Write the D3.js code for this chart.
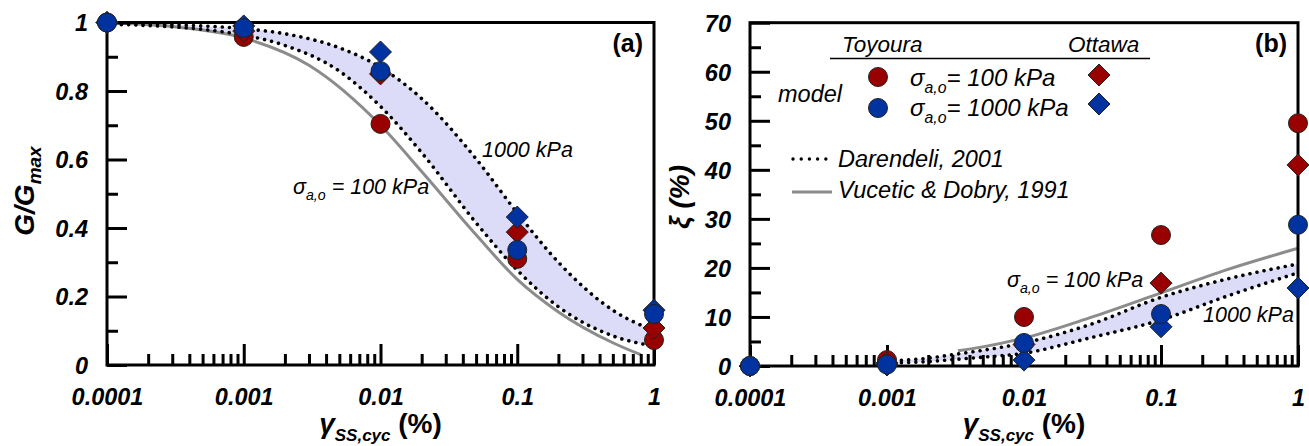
<!DOCTYPE html>
<html><head><meta charset="utf-8">
<script src="https://cdn.jsdelivr.net/npm/d3@7"></script>
<style>
body{margin:0;background:#fff}
svg{display:block}
text{font-family:"Liberation Sans",Arial,sans-serif}
</style>
</head><body>
<svg id="c" width="1309" height="446"></svg>
<script>
// ---------- data ----------
const strainMajor = [0.0001, 0.001, 0.01, 0.1, 1];
const strainLabels = ["0.0001", "0.001", "0.01", "0.1", "1"];
const testStrain = [0.0001, 0.001, 0.01, 0.1, 1];

// panel (a) G/Gmax
const gTicks = [0, 0.2, 0.4, 0.6, 0.8, 1];
const gLabels = ["0", "0.2", "0.4", "0.6", "0.8", "1"];
const gToy100 = [1.0, 0.958, 0.704, 0.31, 0.073];
const gToy1000 = [1.0, 0.984, 0.858, 0.336, 0.149];
const gOtt100 = [1.0, 0.975, 0.85, 0.388, 0.108];
const gOtt1000 = [1.0, 0.99, 0.914, 0.432, 0.16];
const darStrainA = [0.0001, 0.0002, 0.0005, 0.001, 0.002, 0.005, 0.01, 0.02, 0.05, 0.1, 0.2, 0.5, 1];
const darG100 = [0.995, 0.991, 0.980, 0.963, 0.933, 0.858, 0.755, 0.62, 0.415, 0.277, 0.17, 0.085, 0.055];
const darG1000 = [0.998, 0.996, 0.990, 0.982, 0.967, 0.926, 0.869, 0.778, 0.602, 0.444, 0.30, 0.16, 0.10];
const vdStrainA = [0.0001, 0.0003, 0.001, 0.003, 0.01, 0.02, 0.05, 0.1, 0.2, 0.5, 0.8];
const vdG = [1.0, 0.988, 0.955, 0.875, 0.70, 0.565, 0.38, 0.25, 0.155, 0.065, 0.03];

// panel (b) damping
const xiTicks = [0, 10, 20, 30, 40, 50, 60, 70];
const xiLabels = ["0", "10", "20", "30", "40", "50", "60", "70"];
const xiToy100 = [0, 1.2, 10.0, 26.7, 49.5];
const xiToy1000 = [0, 0.3, 4.7, 10.6, 28.8];
const xiOtt100 = [0, 0.6, 4.4, 16.9, 41.0];
const xiOtt1000 = [0, 0.2, 1.2, 8.0, 15.9];
const darStrainB = [0.001, 0.002, 0.003, 0.005, 0.01, 0.03, 0.1, 0.3, 1];
const darXi100 = [1.0, 1.6, 2.3, 3.2, 4.7, 8.4, 14.0, 17.7, 20.8];
const darXi1000 = [0.6, 0.9, 1.3, 1.8, 2.6, 5.7, 9.4, 14.2, 19.0];
const vdStrainB = [0.0033, 0.005, 0.01, 0.03, 0.1, 0.3, 1];
const vdXi = [3.1, 3.9, 5.7, 9.8, 14.9, 19.6, 24.0];

// ---------- style ----------
const RED = "#990000", BLUE = "#0033a0", BAND = "#dcdcf8", GRAY = "#8c8c8c";
const svg = d3.select("#c");

function diamondPath(r) { return `M0,${-r}L${r},0L0,${r}L${-r},0Z`; }

function sigmaText(g, x, y, size, rest) {
  const t = g.append("text").attr("x", x).attr("y", y)
    .attr("font-size", size).attr("font-style", "italic");
  t.append("tspan").text("σ");
  t.append("tspan").attr("font-size", size * 0.66).attr("dy", size * 0.28).text("a,o");
  t.append("tspan").attr("dy", -size * 0.28).text(rest);
  return t;
}

function xTitle(g, cx, y) {
  const t = g.append("text").attr("x", cx).attr("y", y).attr("text-anchor", "middle")
    .attr("font-weight", "bold").attr("font-size", 28);
  t.append("tspan").attr("font-style", "italic").text("γ");
  t.append("tspan").attr("font-style", "italic").attr("font-size", 17).attr("dy", 8).text("SS,cyc");
  t.append("tspan").attr("dy", -8).text(" (%)");
}

function drawPanel(p) {
  const x = d3.scaleLog().domain([1e-4, 1]).range([p.x0, p.x1]);
  const y = d3.scaleLinear().domain(p.yDomain).range([p.yBot, p.yTop]);
  const g = svg.append("g");

  // band between Darendeli curves
  const band = p.darX.map((v, i) => [v, p.darLo[i], p.darHi[i]]);
  g.append("path").datum(band)
    .attr("d", d3.area().x(d => x(d[0])).y0(d => y(d[1])).y1(d => y(d[2])).curve(d3.curveMonotoneX))
    .attr("fill", BAND);

  const line = d3.line().x(d => x(d[0])).y(d => y(d[1])).curve(d3.curveMonotoneX);
  // Vucetic & Dobry
  g.append("path").datum(p.vdX.map((v, i) => [v, p.vdY[i]]))
    .attr("d", line).attr("fill", "none").attr("stroke", GRAY).attr("stroke-width", 3);
  // Darendeli dotted
  [p.darLo, p.darHi].forEach(arr => {
    g.append("path").datum(p.darX.map((v, i) => [v, arr[i]]))
      .attr("d", line).attr("fill", "none").attr("stroke", "#000").attr("stroke-width", 3.6)
      .attr("stroke-linecap", "round").attr("stroke-dasharray", "0.01 7.2");
  });

  // axes ticks
  const isMajor = v => strainMajor.some(m => Math.abs(Math.log10(v / m)) < 1e-6);
  const minorX = x.ticks().filter(v => !isMajor(v));
  const styleAx = sel => { sel.select(".domain").remove(); sel.selectAll("line").attr("stroke-width", 3).attr("stroke", "#000"); };

  g.append("g").attr("transform", `translate(0,${p.yBot})`)
    .call(d3.axisBottom(x).tickValues(minorX).tickSizeInner(-11).tickSizeOuter(0).tickFormat(""))
    .call(styleAx);
  const xa = g.append("g").attr("transform", `translate(0,${p.yBot})`)
    .call(d3.axisBottom(x).tickValues(strainMajor).tickSizeInner(-21).tickSizeOuter(0)
      .tickFormat((d, i) => strainLabels[i]))
    .call(styleAx);
  xa.selectAll("text").attr("y", 40).attr("dy", null).attr("fill", "#000")
    .attr("font-size", 23.5).attr("font-weight", "bold").attr("font-style", "italic")
    .attr("font-family", '"Liberation Sans",Arial,sans-serif');

  const yMajor = p.yTicks;
  const yMinor = y.ticks(p.minorCount).filter(v => !yMajor.some(m => Math.abs(m - v) < 1e-9));
  g.append("g").attr("transform", `translate(${p.x0},0)`)
    .call(d3.axisLeft(y).tickValues(yMinor).tickSizeInner(-11).tickSizeOuter(0).tickFormat(""))
    .call(styleAx);
  const ya = g.append("g").attr("transform", `translate(${p.x0},0)`)
    .call(d3.axisLeft(y).tickValues(yMajor).tickSizeInner(-20).tickSizeOuter(0)
      .tickFormat((d, i) => p.yLabels[i]))
    .call(styleAx);
  ya.selectAll("text").attr("x", -19).attr("dy", "0.36em").attr("fill", "#000")
    .attr("font-size", 23.5).attr("font-weight", "bold").attr("font-style", "italic")
    .attr("font-family", '"Liberation Sans",Arial,sans-serif');

  // frame
  g.append("rect").attr("x", p.x0).attr("y", p.yTop)
    .attr("width", p.x1 - p.x0).attr("height", p.yBot - p.yTop)
    .attr("fill", "none").attr("stroke", "#000").attr("stroke-width", 3);

  // markers
  const series = [
    { v: p.toy100, shape: "c", color: RED },
    { v: p.ott100, shape: "d", color: RED },
    { v: p.ott1000, shape: "d", color: BLUE },
    { v: p.toy1000, shape: "c", color: BLUE }
  ];
  series.forEach(s => {
    const pts = testStrain.map((t, i) => [t, s.v[i]]);
    if (s.shape === "c") {
      g.selectAll(null).data(pts).join("circle")
        .attr("cx", d => x(d[0])).attr("cy", d => y(d[1])).attr("r", 9.5)
        .attr("fill", s.color).attr("stroke", "#222").attr("stroke-width", 1);
    } else {
      g.selectAll(null).data(pts).join("path")
        .attr("transform", d => `translate(${x(d[0])},${y(d[1])})`)
        .attr("d", diamondPath(11)).attr("fill", s.color).attr("stroke", "#222").attr("stroke-width", 1);
    }
  });

  // panel label
  g.append("text").attr("x", p.x1 - 11).attr("y", 52).attr("text-anchor", "end")
    .attr("font-size", 25).attr("font-weight", "bold").text(p.tag);

  xTitle(g, (p.x0 + p.x1) / 2, 433);
  return { g, x, y };
}

// ---------- panel a ----------
const A = drawPanel({
  x0: 107, x1: 654, yTop: 22.5, yBot: 365, yDomain: [0, 1],
  yTicks: gTicks, yLabels: gLabels, minorCount: 10,
  darX: darStrainA, darLo: darG100, darHi: darG1000,
  vdX: vdStrainA, vdY: vdG,
  toy100: gToy100, toy1000: gToy1000, ott100: gOtt100, ott1000: gOtt1000,
  tag: "(a)"
});
{
  const t = A.g.append("text").attr("transform", "translate(34,191) rotate(-90)")
    .attr("text-anchor", "middle").attr("font-weight", "bold").attr("font-size", 28);
  t.append("tspan").attr("font-style", "italic").text("G/G");
  t.append("tspan").attr("font-style", "italic").attr("font-size", 19).attr("dy", 7).text("max");
  A.g.append("text").attr("x", 482).attr("y", 157).attr("font-size", 21.5)
    .attr("font-style", "italic").text("1000 kPa");
  sigmaText(A.g, 293, 194, 21.5, " = 100 kPa");
}

// ---------- panel b ----------
const B = drawPanel({
  x0: 750, x1: 1298, yTop: 22.7, yBot: 366, yDomain: [0, 70],
  yTicks: xiTicks, yLabels: xiLabels, minorCount: 14,
  darX: darStrainB, darLo: darXi1000, darHi: darXi100,
  vdX: vdStrainB, vdY: vdXi,
  toy100: xiToy100, toy1000: xiToy1000, ott100: xiOtt100, ott1000: xiOtt1000,
  tag: "(b)"
});
{
  const g = B.g;
  g.append("text").attr("transform", "translate(689,197) rotate(-90)")
    .attr("text-anchor", "middle").attr("font-weight", "bold").attr("font-size", 28)
    .text("ξ (%)").attr("font-style", "italic");
  sigmaText(g, 1007, 287, 21.5, " = 100 kPa");
  g.append("text").attr("x", 1203).attr("y", 322).attr("font-size", 21.5)
    .attr("font-style", "italic").text("1000 kPa");

  // legend
  const it = (x, y, s, txt) => g.append("text").attr("x", x).attr("y", y)
    .attr("font-size", s).attr("font-style", "italic").text(txt);
  it(842, 52, 22.5, "Toyoura");
  it(1068, 52, 22.5, "Ottawa");
  g.append("line").attr("x1", 830).attr("x2", 1150).attr("y1", 58.5).attr("y2", 58.5)
    .attr("stroke", "#000").attr("stroke-width", 1.5);
  it(778, 102, 23.5, "model");
  g.append("circle").attr("cx", 878).attr("cy", 77).attr("r", 9.5).attr("fill", RED).attr("stroke", "#222");
  g.append("circle").attr("cx", 878).attr("cy", 108).attr("r", 9.5).attr("fill", BLUE).attr("stroke", "#222");
  sigmaText(g, 910, 86, 24, "= 100 kPa");
  sigmaText(g, 910, 116, 24, "= 1000 kPa");
  g.append("path").attr("transform", "translate(1099,75)").attr("d", diamondPath(11))
    .attr("fill", RED).attr("stroke", "#222");
  g.append("path").attr("transform", "translate(1099,104)").attr("d", diamondPath(11))
    .attr("fill", BLUE).attr("stroke", "#222");
  g.append("line").attr("x1", 793).attr("x2", 827).attr("y1", 159).attr("y2", 159)
    .attr("stroke", "#000").attr("stroke-width", 3.4).attr("stroke-linecap", "round")
    .attr("stroke-dasharray", "0.01 8.2");
  it(838, 167, 23.5, "Darendeli, 2001");
  g.append("line").attr("x1", 792).attr("x2", 832).attr("y1", 192).attr("y2", 192)
    .attr("stroke", GRAY).attr("stroke-width", 3);
  it(838, 198, 23.5, "Vucetic & Dobry, 1991");
}
</script>
</body></html>
